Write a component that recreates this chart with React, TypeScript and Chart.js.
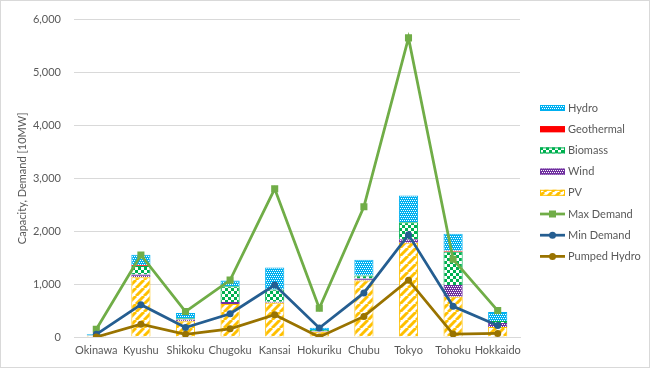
import React, { useEffect, useRef } from "react";
import { Chart, registerables } from "chart.js";
Chart.register(...registerables);

const categories = ["Okinawa", "Kyushu", "Shikoku", "Chugoku", "Kansai", "Hokuriku", "Chubu", "Tokyo", "Tohoku", "Hokkaido"];
const pv = [25, 1130, 300, 624, 648, 98, 1070, 1784, 759, 190];
const wind = [2, 50, 30, 37, 20, 13, 37, 62, 222, 74];
const biomass = [3, 160, 25, 300, 228, 19, 55, 321, 630, 37];
const geothermal = [0, 20, 0, 0, 0, 0, 0, 0, 18, 0];
const hydro = [20, 196, 100, 105, 420, 43, 296, 506, 321, 173];
const maxDemand = [145, 1550, 481, 1075, 2802, 543, 2463, 5654, 1469, 500];
const minDemand = [50, 611, 179, 439, 981, 170, 833, 1932, 580, 216];
const pumpedHydro = [0, 241, 50, 154, 420, 0, 389, 1074, 56, 68];

const FONT = "Lato";
const TEXT = "#595959";

function tile(size: number, draw: (g: CanvasRenderingContext2D) => void) {
  const c = document.createElement("canvas");
  c.width = size;
  c.height = size;
  const g = c.getContext("2d")!;
  draw(g);
  return c;
}

export default function App() {
  const ref = useRef<HTMLCanvasElement>(null);
  useEffect(() => {
    const canvas = ref.current!;
    const ctx = canvas.getContext("2d")!;
    const dots = (base: string) =>
      ctx.createPattern(
        tile(4, (g) => {
          g.fillStyle = base;
          g.fillRect(0, 0, 4, 4);
          g.fillStyle = "#ffffff";
          [[0, 0], [2, 0], [1, 2], [3, 2]].forEach(([x, y]) => g.fillRect(x, y, 1, 1));
        }),
        "repeat"
      )!;
    const hydroFill = dots("#00B0F0");
    const windFill = dots("#7030A0");
    const bioFill = ctx.createPattern(
      tile(6, (g) => {
        g.fillStyle = "#00B050";
        g.fillRect(0, 0, 6, 6);
        g.fillStyle = "#ffffff";
        g.fillRect(0, 0, 3, 3);
        g.fillRect(3, 3, 3, 3);
      }),
      "repeat"
    )!;
    const pvFill = ctx.createPattern(
      tile(8, (g) => {
        g.fillStyle = "#ffffff";
        g.fillRect(0, 0, 8, 8);
        g.strokeStyle = "#FFC000";
        g.lineWidth = 3;
        [-8, 0, 8].forEach((o) => {
          g.beginPath();
          g.moveTo(o, 8);
          g.lineTo(o + 8, 0);
          g.stroke();
        });
      }),
      "repeat"
    )!;

    const legendItems = [
      { label: "Hydro", kind: "bar", fill: hydroFill, color: "#00B0F0" },
      { label: "Geothermal", kind: "bar", fill: "#FF0000", color: "#FF0000" },
      { label: "Biomass", kind: "bar", fill: bioFill, color: "#00B050" },
      { label: "Wind", kind: "bar", fill: windFill, color: "#7030A0" },
      { label: "PV", kind: "bar", fill: pvFill, color: "#FFC000" },
      { label: "Max Demand", kind: "rect", fill: "#70AD47", color: "#70AD47" },
      { label: "Min Demand", kind: "circle", fill: "#255E91", color: "#255E91" },
      { label: "Pumped Hydro", kind: "circle", fill: "#997300", color: "#997300" },
    ];

    const frame = {
      id: "frame",
      beforeDraw(chart: any) {
        const c = chart.ctx;
        c.save();
        c.fillStyle = "#ffffff";
        c.fillRect(0, 0, chart.width, chart.height);
        c.strokeStyle = "#D9D9D9";
        c.lineWidth = 1;
        c.strokeRect(0.5, 0.5, chart.width - 1, chart.height - 1);
        c.restore();
      },
      afterDraw(chart: any) {
        const c = chart.ctx;
        c.save();
        const x0 = chart.chartArea.right + 20;
        legendItems.forEach((it, i) => {
          const y = 108 + i * 21.2;
          if (it.kind === "bar") {
            c.fillStyle = it.fill;
            c.fillRect(x0, y - 3, 25, 6);
            c.strokeStyle = it.color;
            c.lineWidth = 1;
            c.strokeRect(x0 + 0.5, y - 2.5, 24, 5);
          } else {
            c.strokeStyle = it.color;
            c.lineWidth = 2.75;
            c.beginPath();
            c.moveTo(x0, y);
            c.lineTo(x0 + 25, y);
            c.stroke();
            c.fillStyle = it.color;
            if (it.kind === "rect") c.fillRect(x0 + 9, y - 3.5, 7, 7);
            else {
              c.beginPath();
              c.arc(x0 + 12.5, y, 3.5, 0, Math.PI * 2);
              c.fill();
            }
          }
          c.fillStyle = TEXT;
          c.font = `11px ${FONT}`;
          c.textBaseline = "middle";
          c.textAlign = "left";
          c.fillText(it.label, x0 + 28, y);
        });
        c.restore();
      },
    };

    const barDs = (label: string, data: number[], fill: any, color: string) => ({
      type: "bar" as const,
      label,
      data,
      backgroundColor: fill,
      borderColor: color,
      borderWidth: 1,
      stack: "cap",
      order: 3,
      barPercentage: 0.43,
      categoryPercentage: 1,
    });
    const lineDs = (label: string, data: number[], color: string, style: string, r: number, order: number) => ({
      type: "line" as const,
      label,
      data,
      borderColor: color,
      backgroundColor: color,
      borderWidth: 2.75,
      pointStyle: style,
      pointRadius: r,
      pointBackgroundColor: color,
      pointBorderColor: color,
      pointBorderWidth: 0,
      tension: 0,
      fill: false,
      stack: label,
      order,
    });

    const chart = new Chart(canvas, {
      data: {
        labels: categories,
        datasets: [
          barDs("PV", pv, pvFill, "#FFC000"),
          barDs("Wind", wind, windFill, "#7030A0"),
          barDs("Biomass", biomass, bioFill, "#00B050"),
          barDs("Geothermal", geothermal, "#FF0000", "#FF0000"),
          barDs("Hydro", hydro, hydroFill, "#00B0F0"),
          lineDs("Max Demand", maxDemand, "#70AD47", "rect", 5, 2),
          lineDs("Min Demand", minDemand, "#255E91", "circle", 3.5, 1),
          lineDs("Pumped Hydro", pumpedHydro, "#997300", "circle", 3.5, 0),
        ] as any,
      },
      options: {
        responsive: false,
        animation: false,
        font: { family: FONT },
        layout: { padding: { left: 0, right: 130, top: 13, bottom: 0 } },
        plugins: { legend: { display: false }, tooltip: { enabled: false } },
        scales: {
          x: {
            grid: { display: false, drawTicks: false },
            border: { display: true, color: "#D9D9D9" },
            ticks: { color: TEXT, font: { family: FONT, size: 11 }, padding: 7, maxRotation: 0, autoSkip: false },
            afterFit: (s: any) => {
              s.height = 31;
            },
          },
          y: {
            stacked: true,
            min: 0,
            max: 6000,
            grid: { color: "#D9D9D9", drawTicks: false },
            border: { display: false },
            ticks: {
              stepSize: 1000,
              color: TEXT,
              font: { family: FONT, size: 11 },
              padding: 13,
              callback: (v: any) => Number(v).toLocaleString("en-US"),
            },
            title: {
              display: true,
              text: "Capacity, Demand [10MW]",
              color: TEXT,
              font: { family: FONT, size: 11 },
              padding: { top: 16, bottom: 0 },
            },
            afterFit: (s: any) => {
              s.width = 74;
            },
          },
        },
      } as any,
      plugins: [frame],
    });
    return () => chart.destroy();
  }, []);
  return (
    <div style={{ position: "absolute", left: 0, top: 0, width: 650, height: 368 }}>
      <canvas ref={ref} width={650} height={368} style={{ display: "block" }} />
    </div>
  );
}
